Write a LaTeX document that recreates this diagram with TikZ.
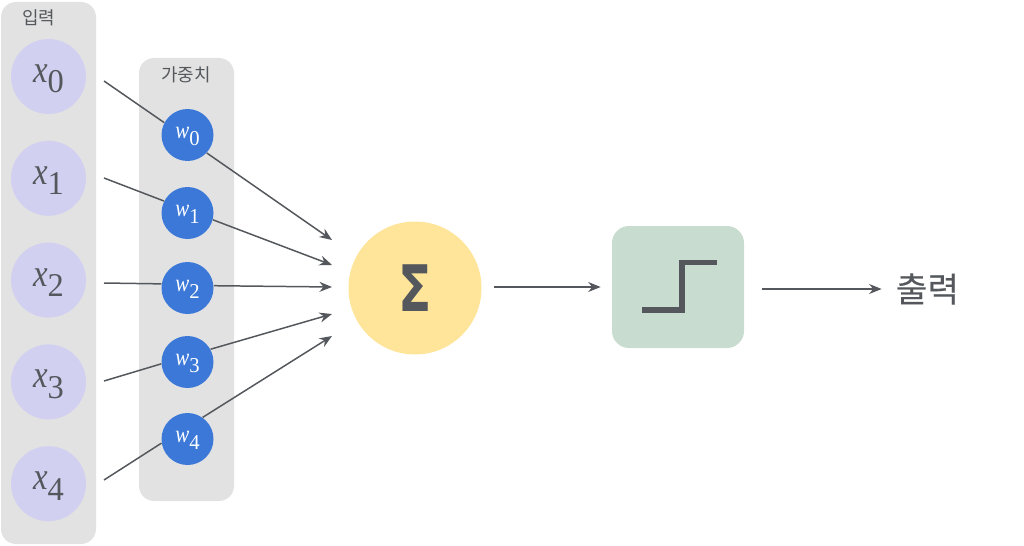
\documentclass[tikz,border=0pt]{standalone}
\usepackage{fontspec}
\setmainfont{Liberation Serif}
\newfontfamily\krfont{Noto Sans CJK KR}
\newfontfamily\krheavy[FakeBold=0.35]{Noto Sans CJK KR}
\newfontfamily\sumfont{DejaVu Sans}
\usetikzlibrary{arrows.meta, positioning, backgrounds}
\definecolor{panelgray}{HTML}{E2E2E2}
\definecolor{inputlilac}{HTML}{D1D0F1}
\definecolor{weightblue}{HTML}{3B78D8}
\definecolor{sumyellow}{HTML}{FFE599}
\definecolor{stepgreen}{HTML}{C8DCD0}
\definecolor{inkgray}{HTML}{54585C}
\newcommand{\termvar}[2]{\rule{0pt}{0.58em}\scalebox{0.85}[1]{\textit{#1}}\raisebox{-0.27em}{\scalebox{0.84}[0.86]{#2}}}
\tikzset{
    panel/.style={rectangle, fill=panelgray, rounded corners=0.3cm, minimum width=1.9cm, inner sep=0pt},
    panellabel/.style={font=\krfont\fontsize{10.2}{12}\selectfont, text=inkgray, inner sep=0pt},
    inputnode/.style={circle, fill=inputlilac, minimum size=1.5cm, inner sep=0pt, text=inkgray, font=\fontsize{22}{26}\selectfont},
    weightnode/.style={circle, fill=weightblue, minimum size=1.04cm, inner sep=0pt, text=white, font=\fontsize{14}{16}\selectfont},
    sumnode/.style={circle, fill=sumyellow, minimum size=2.66cm, inner sep=0pt, text=inkgray},
    stepbox/.style={rectangle, fill=stepgreen, rounded corners=0.34cm, minimum width=2.64cm, minimum height=2.44cm, inner sep=0pt},
    outlabel/.style={font=\krheavy\fontsize{19.5}{22}\selectfont, text=inkgray, inner sep=0pt},
    line/.style={draw, -{Stealth[length=0.25cm, width=0.2cm]}, line width=0.85pt, color=inkgray},
    wire/.style={draw, line width=0.85pt, color=inkgray},
    stepline/.style={draw, line width=0.115cm, color=inkgray},
}
\begin{document}
\begin{tikzpicture}
\useasboundingbox (0,0) rectangle (20.48,10.9);

% ===================== INPUT COLUMN =====================
\node[inputnode] (x_0) at (0.97, 9.37) {\termvar{x}{0}};
\node[inputnode, below=0.522cm of x_0] (x_1) {\termvar{x}{1}};
\node[inputnode, below=0.522cm of x_1] (x_2) {\termvar{x}{2}};
\node[inputnode, below=0.522cm of x_2] (x_3) {\termvar{x}{3}};
\node[inputnode, below=0.522cm of x_3] (x_4) {\termvar{x}{4}};
\node[panellabel] (x_label) at (0.78, 10.54) {입력};

% ===================== WEIGHT COLUMN =====================
\node[weightnode] (w_0) at (3.75, 8.20) {\termvar{w}{0}};
\node[weightnode, below=0.506cm of w_0] (w_1) {\termvar{w}{1}};
\node[weightnode, below=0.446cm of w_1] (w_2) {\termvar{w}{2}};
\node[weightnode, below=0.426cm of w_2] (w_3) {\termvar{w}{3}};
\node[weightnode, below=0.486cm of w_3] (w_4) {\termvar{w}{4}};
\node[panellabel] (w_label) at (3.72, 9.40) {가중치};

% Column backgrounds
\begin{scope}[on background layer]
    \node[panel, minimum height=10.84cm] (x_panel) at (0.97, 5.44) {};
    \node[panel, minimum height=8.86cm] (w_panel) at (3.73, 5.31) {};
\end{scope}

% ===================== SUM, STEP, OUTPUT =====================
\node[sumnode] (sum) at (8.30, 5.14) {\sumfont\bfseries\fontsize{36.5}{40}\selectfont\scalebox{0.76}[1]{Σ}};
\node[stepbox] (step_box) at (13.56, 5.16) {};
\node[outlabel] (out_label) at (18.55, 5.12) {출력};

\draw[stepline] ([shift={(-0.72,-0.46)}]step_box.center) -- ++(0.80,0) -- ++(0,0.95) -- ++(0.70,0);

% Free ends of the weighted inputs
\coordinate (in_0) at (2.08, 9.28);
\coordinate (in_1) at (2.08, 7.34);
\coordinate (in_2) at (2.08, 5.24);
\coordinate (in_3) at (2.08, 3.28);
\coordinate (in_4) at (2.08, 1.30);
\coordinate (tip_0) at (6.64, 6.10);
\coordinate (tip_1) at (6.64, 5.60);
\coordinate (tip_2) at (6.64, 5.16);
\coordinate (tip_3) at (6.64, 4.62);
\coordinate (tip_4) at (6.64, 4.18);

\draw[wire] (in_0) -- (w_0.152);
\draw[wire] (in_1) -- (w_1.153);
\draw[wire] (in_2) -- (w_2.171);
\draw[wire] (in_3) -- (w_3.184);
\draw[wire] (in_4) -- (w_4.189);
\draw[line] (w_0.-43) -- (tip_0);
\draw[line] (w_1.-15) -- (tip_1);
\draw[line] (w_2.5) -- (tip_2);
\draw[line] (w_3.29) -- (tip_3);
\draw[line] (w_4.55) -- (tip_4);

\draw[line, shorten <=0.24cm, shorten >=0.22cm] (sum.east |- step_box) -- (step_box);
\draw[line, shorten <=0.36cm, shorten >=0.28cm] (step_box.east |- out_label) -- (out_label);

\end{tikzpicture}
\end{document}
